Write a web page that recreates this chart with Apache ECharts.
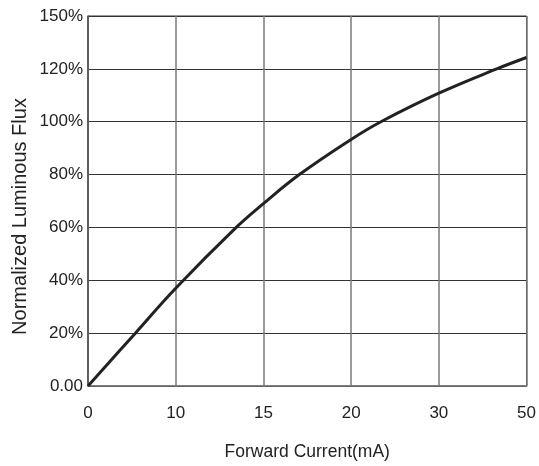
<!DOCTYPE html>
<html>
<head>
<meta charset="utf-8">
<script src="https://cdn.jsdelivr.net/npm/echarts@6/dist/echarts.min.js"></script>
<style>
  html, body { margin: 0; padding: 0; background: #fff; }
  #chart { width: 539px; height: 466px; }
</style>
</head>
<body>
<div id="chart"></div>
<script>
// Forward current ticks are evenly spaced on the axis (non-linear scale)
const currentTicks = ['0', '10', '15', '20', '30', '50'];
// Flux tick labels for gridlines at 0, 20, ... 140 (top label reads 150%)
const fluxTicks = ['0.00', '20%', '40%', '60%', '80%', '100%', '120%', '150%'];

// Curve samples: position along the current axis (tick index units), normalized flux (%)
const curvePos  = [0, 0.54, 1.0, 1.69, 2.0, 2.41, 3.0, 3.34, 4.0, 4.66, 5.0];
const curveFlux = [0, 20, 37, 60, 69, 80, 93.3, 100, 110.8, 120, 124.3];

const chart = echarts.init(document.getElementById('chart'), null, { renderer: 'canvas' });

const font = 'Liberation Sans, Arial, sans-serif';

chart.setOption({
  animation: false,
  backgroundColor: '#ffffff',
  grid: { left: 88, right: 11, top: 16, bottom: 76, show: true, borderColor: '#333', borderWidth: 1 },
  graphic: [{
    type: 'text',
    x: 20, y: 216.5,
    rotation: Math.PI / 2,
    style: {
      text: 'Normalized Luminous Flux',
      fontFamily: font, fontSize: 20, fill: '#222',
      align: 'center', verticalAlign: 'middle'
    }
  }],
  xAxis: {
    type: 'value',
    min: 0, max: 5, interval: 1,
    name: 'Forward Current(mA)',
    nameLocation: 'middle',
    nameGap: 57,
    nameTextStyle: { fontFamily: font, fontSize: 17.5, color: '#222' },
    axisLine: { show: true, lineStyle: { color: '#777', width: 1.5 } },
    axisTick: { show: false },
    axisLabel: {
      margin: 19, fontFamily: font, fontSize: 17, color: '#222',
      formatter: v => currentTicks[Math.round(v)]
    },
    splitLine: { show: true, lineStyle: { color: '#7a7a7a', width: 1.5 } }
  },
  yAxis: {
    type: 'value',
    min: 0, max: 140, interval: 20,
    axisLine: { show: true, lineStyle: { color: '#555', width: 1.5 } },
    axisTick: { show: false },
    axisLabel: {
      margin: 5, fontFamily: font, fontSize: 17, color: '#222',
      formatter: v => fluxTicks[Math.round(v / 20)]
    },
    splitLine: { show: true, lineStyle: { color: '#333', width: 1 } }
  },
  series: [{
    type: 'line',
    data: curvePos.map((x, i) => [x, curveFlux[i]]),
    smooth: 0.4,
    showSymbol: false,
    lineStyle: { color: '#222', width: 3 }
  }]
});
</script>
</body>
</html>
